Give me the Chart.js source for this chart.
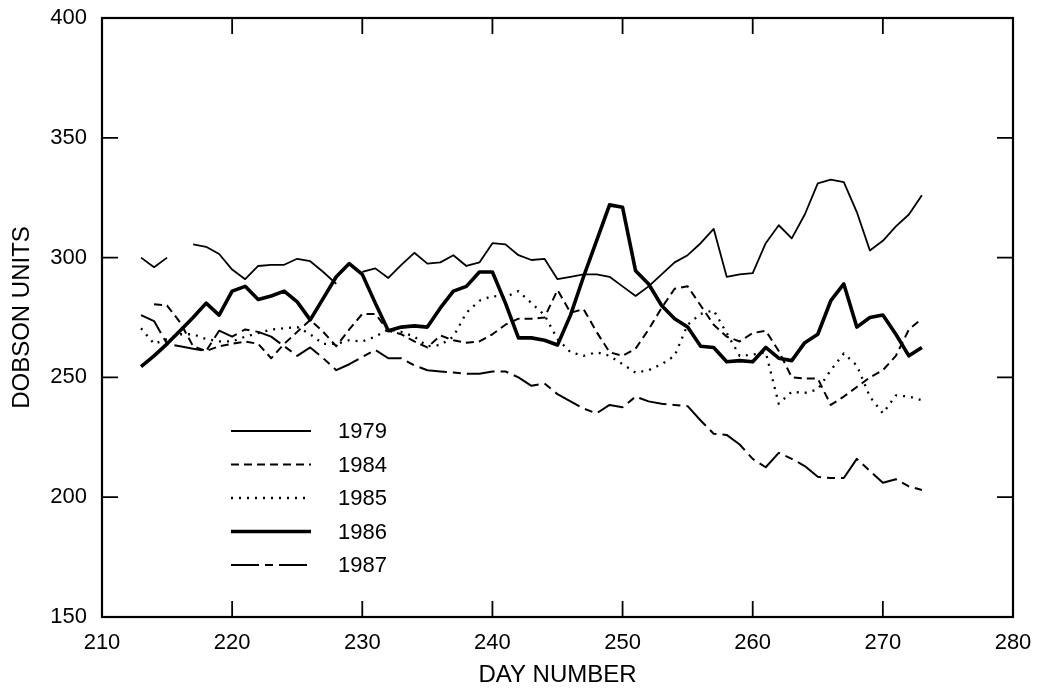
<!DOCTYPE html>
<html>
<head>
<meta charset="utf-8">
<script src="https://cdn.jsdelivr.net/npm/chart.js@4.4.1/dist/chart.umd.min.js"></script>
<style>
  body { margin: 0; background: #fff; }
  #wrap { width: 1041px; height: 689px; }
</style>
</head>
<body>
<div id="wrap"><canvas id="ozoneChart"></canvas></div>
<script>
const days = [
  213, 214, 215, 216, 217, 218, 219, 220, 221, 222,
  223, 224, 225, 226, 227, 228, 229, 230, 231, 232,
  233, 234, 235, 236, 237, 238, 239, 240, 241, 242,
  243, 244, 245, 246, 247, 248, 249, 250, 251, 252,
  253, 254, 255, 256, 257, 258, 259, 260, 261, 262,
  263, 264, 265, 266, 267, 268, 269, 270, 271, 272,
  273
];

const ozone1979 = [
  300, 296, 300, null, 305.5, 304.5, 301.5, 295, 291, 296.5,
  297, 297, 299.5, 298.5, 294, 289, null, 294, 295.5, 291.5,
  297, 302, 297.5, 298, 301, 296.5, 298, 306, 305.5, 301,
  299, 299.5, 291, 292, 293, 293, 292, 288, 284, 288,
  293, 298, 301, 306, 312, 292, 293, 293.5, 306, 313.5,
  308, 318, 331, 332.5, 331.5, 319, 303, 307, 313, 318,
  326
];

const ozone1984 = [
  null, 280.5, 280, 273, 263, 261, 263, 264, 265, 264,
  258, 264, 269, 274, 269, 263, 270, 276.5, 276.5, 269.5,
  268, 265, 262.5, 267.5, 265.5, 264.5, 265, 268, 272, 274.5,
  274.5, 275, 286.5, 277, 278.5, 269, 260.5, 259, 262, 270,
  279, 287, 288, 280, 272, 267, 265, 268.5, 269.5, 261,
  250, 249.5, 249.5, 238.5, 242, 246, 250, 253, 259, 270,
  274.5
];

const ozone1985 = [
  270.5, 264, 266, 268, 268, 266, 265, 265, 267, 268.5,
  270, 270.5, 271, 268, 264, 264, 265.5, 265, 267, 270,
  269, 267, 263, 263.5, 267, 277, 282, 284, 283.5, 286,
  281, 276, 266, 260.5, 259, 260.5, 259, 255.5, 252, 253,
  255.5, 259, 272, 276.5, 278, 268.5, 259, 259.5, 260.5, 239,
  244, 243.5, 245, 253, 260, 255, 242, 235, 242.5, 242,
  240.5
];

const ozone1986 = [
  254.5, 259, 264, 269.5, 275, 281, 276, 286, 288, 282.5,
  284, 286, 281.5, 274, 283, 292, 297.5, 293, 281, 269.5,
  271, 271.5, 271, 279, 286, 288, 294, 294, 281, 266.5,
  266.5, 265.5, 263.5, 276, 292, 307, 322, 321, 294.5, 289,
  280, 274.5, 271, 263, 262.5, 256.5, 257, 256.5, 262.5, 258,
  257, 264.5, 268, 282, 289, 271, 275, 276, 268, 259,
  262.5
];

const ozone1987 = [
  276, 273.5, 264, 263, 262, 261, 269.5, 267, 270, 269,
  267, 263, 259, 262.5, 258, 253, 255.5, 258.5, 261.5, 258,
  258, 255, 253, 252.5, 252, 251.5, 251.5, 252.5, 252.5, 250,
  246.5, 247.5, 243, 240, 237, 235, 238.5, 237.5, 242, 240,
  239, 238.5, 238, 232, 226.5, 226, 222, 216, 212.5, 218.5,
  216, 213, 208.5, 208, 208, 216, 211, 206, 207.5, 204.5,
  203
];

const xTicks = [210, 220, 230, 240, 250, 260, 270, 280];
const yTicks = [150, 200, 250, 300, 350, 400];

const fontFamily = "'Liberation Sans', Arial, Helvetica, sans-serif";

const toPoints = (values) => days.map((d, i) => ({ x: d, y: values[i] }));

const makeSeries = (label, values, width, dash) => ({
  label: label,
  data: toPoints(values),
  borderColor: "#000",
  backgroundColor: "#000",
  borderWidth: width,
  borderDash: dash,
  borderCapStyle: "butt",
  borderJoinStyle: "round",
  pointRadius: 0,
  fill: false,
  tension: 0,
  spanGaps: false,
});

// frame with inward ticks on all four sides
const framePlugin = {
  id: "frame",
  afterDraw(chart) {
    const { ctx, chartArea: a, scales } = chart;
    ctx.save();
    ctx.strokeStyle = "#000";
    ctx.lineWidth = 2.2;
    ctx.strokeRect(a.left, a.top, a.right - a.left, a.bottom - a.top);
    ctx.lineWidth = 1.8;
    ctx.beginPath();
    xTicks.forEach((t) => {
      const px = scales.x.getPixelForValue(t);
      ctx.moveTo(px, a.bottom);
      ctx.lineTo(px, a.bottom - 16);
      ctx.moveTo(px, a.top);
      ctx.lineTo(px, a.top + 16);
    });
    yTicks.forEach((t) => {
      const py = scales.y.getPixelForValue(t);
      ctx.moveTo(a.left, py);
      ctx.lineTo(a.left + 16, py);
      ctx.moveTo(a.right, py);
      ctx.lineTo(a.right - 16, py);
    });
    ctx.stroke();
    ctx.restore();
  },
};

// legend drawn inside the plot, lower left
const legendPlugin = {
  id: "insideLegend",
  afterDraw(chart) {
    const { ctx } = chart;
    ctx.save();
    ctx.fillStyle = "#000";
    ctx.strokeStyle = "#000";
    ctx.font = "22px " + fontFamily;
    ctx.textBaseline = "middle";
    chart.data.datasets.forEach((ds, i) => {
      const y = 431 + i * 33.5;
      ctx.lineWidth = ds.borderWidth;
      ctx.setLineDash(ds.borderDash || []);
      ctx.beginPath();
      ctx.moveTo(231, y);
      ctx.lineTo(311, y);
      ctx.stroke();
      ctx.setLineDash([]);
      ctx.fillText(ds.label, 338, y + 1);
    });
    ctx.restore();
  },
};

const ctx = document.getElementById("ozoneChart").getContext("2d");
const ozoneChart = new Chart(ctx, {
  type: "line",
  data: {
    datasets: [
      makeSeries("1979", ozone1979, 1.8, []),
      makeSeries("1984", ozone1984, 2, [8, 5]),
      makeSeries("1985", ozone1985, 2.3, [2, 6]),
      makeSeries("1986", ozone1986, 3.6, []),
      makeSeries("1987", ozone1987, 2, [28, 6, 8, 6]),
    ],
  },
  options: {
    responsive: true,
    maintainAspectRatio: false,
    animation: false,
    layout: {
      padding: { top: 18, right: 28, left: 0, bottom: 0 },
    },
    plugins: {
      legend: { display: false },
      tooltip: { enabled: false },
    },
    scales: {
      x: {
        type: "linear",
        min: 210,
        max: 280,
        afterFit: (s) => {
          s.height = 72;
          s.paddingLeft = 0;
          s.paddingRight = 0;
        },
        afterBuildTicks: (s) => { s.ticks = xTicks.map((v) => ({ value: v })); },
        ticks: {
          color: "#000",
          padding: 13,
          font: { family: fontFamily, size: 22 },
        },
        grid: { drawOnChartArea: false, drawTicks: false },
        border: { display: false },
        title: {
          display: true,
          text: "DAY NUMBER",
          color: "#000",
          font: { family: fontFamily, size: 24, lineHeight: 1 },
          padding: { top: 0, bottom: 2 },
        },
      },
      y: {
        min: 150,
        max: 400,
        afterFit: (s) => {
          s.width = 102;
          s.paddingTop = 0;
          s.paddingBottom = 0;
        },
        afterBuildTicks: (s) => { s.ticks = yTicks.map((v) => ({ value: v })); },
        ticks: {
          color: "#000",
          padding: 15,
          font: { family: fontFamily, size: 22 },
        },
        grid: { drawOnChartArea: false, drawTicks: false },
        border: { display: false },
        title: {
          display: true,
          text: "DOBSON UNITS",
          color: "#000",
          font: { family: fontFamily, size: 24, lineHeight: 1 },
          padding: { top: 10, bottom: 0 },
        },
      },
    },
  },
  plugins: [framePlugin, legendPlugin],
});
</script>
</body>
</html>
